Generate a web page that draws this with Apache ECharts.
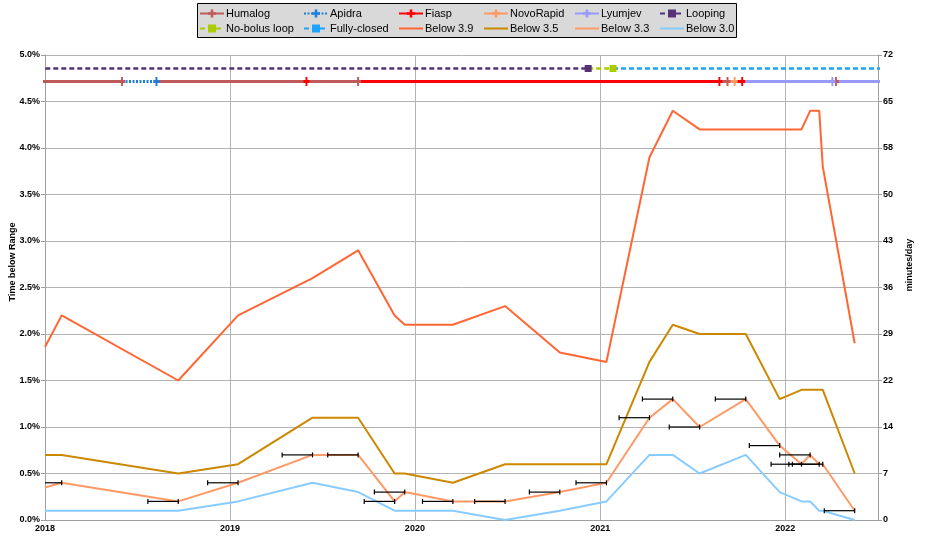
<!DOCTYPE html>
<html><head><meta charset="utf-8">
<script src="https://cdn.jsdelivr.net/npm/echarts@6/dist/echarts.min.js"></script>
<style>html,body{margin:0;padding:0;background:#fff}#c{width:929px;height:538px}</style>
</head><body><div id="c"></div>
<script>
// ---- data ----
const dates = ['2018-01-01','2018-02-03','2018-09-21','2019-01-17','2019-06-13','2019-09-11','2019-11-22','2019-12-12','2020-03-16','2020-06-27','2020-10-13','2021-01-13','2021-04-08','2021-05-24','2021-07-16','2021-10-15','2021-12-21','2022-02-02','2022-02-19','2022-03-09','2022-03-16','2022-05-18'];
const below39 = [1.86,2.2,1.5,2.2,2.6,2.9,2.2,2.1,2.1,2.3,1.8,1.7,3.9,4.4,4.2,4.2,4.2,4.2,4.4,4.4,3.8,1.9];
const below35 = [0.7,0.7,0.5,0.6,1.1,1.1,0.5,0.5,0.4,0.6,0.6,0.6,1.7,2.1,2.0,2.0,1.3,1.4,1.4,1.4,1.4,0.5];
const below33 = [0.35,0.4,0.2,0.4,0.7,0.7,0.2,0.3,0.2,0.2,0.3,0.4,1.1,1.3,1.0,1.3,0.8,0.6,0.7,0.6,0.6,0.1];
const below30 = [0.1,0.1,0.1,0.2,0.4,0.3,0.1,0.1,0.1,0.0,0.1,0.2,0.7,0.7,0.5,0.7,0.3,0.2,0.2,0.1,0.1,0.0];
const errWindowDays = 60;

// timeline periods (each inner list = connected dates)
const humalogPeriods = [['2017-12-01','2018-06-02'],['2018-08-09','2019-09-11'],['2021-08-24','2021-09-09'],['2022-04-11']];
const apidraPeriods = [['2018-06-02','2018-08-09']];
const fiaspPeriods = [['2019-06-01'],['2019-09-11','2021-08-24'],['2021-09-23','2021-10-08']];
const novorapidPeriods = [['2021-09-09','2021-09-23']];
const lyumjevPeriods = [['2021-10-08','2022-04-04','2022-08-01']];
const loopingPeriods = [['2017-12-01','2020-12-08']];
const noBolusPeriods = [['2020-12-08','2021-01-26']];
const fullyClosedPeriods = [['2021-01-26','2022-08-01']];
const insulinRow = 4.715, loopRow = 4.855;

const xMin = '2018-01-01', xMax = '2022-07-03';
const leftTicks = {min:0, max:5, interval:0.5};
const rightTicks = {min:0, max:72, interval:7.2};

// ---- helpers ----
const DAY = 86400000;
function ts(s){const p=s.split('-').map(Number);return new Date(p[0],p[1]-1,p[2]).getTime();}
function periodData(periods,row){
  const out=[];
  periods.forEach((p,i)=>{
    if(i>0)out.push(null);
    p.forEach((d,j)=>{
      const item={value:[ts(d),row]};
      if(j===0&&p.length>1)item.symbol='none';
      out.push(item);
    });
  });
  return out;
}
function pairs(vals){return dates.map((d,i)=>[ts(d),vals[i]]);}

const FONT = 'Liberation Sans';
const plus = 'path://M3.4,0H6.6V3.4H10V6.6H6.6V10H3.4V6.6H0V3.4H3.4Z';

function timeline(name,color,periods,row,type,symbol,width){
  return {name,type:'line',data:periodData(periods,row),connectNulls:false,
    symbol:symbol,symbolSize:symbol==='rect'?7:[6,9],showSymbol:true,showAllSymbol:true,
    lineStyle:{color,width:width||3,type:type||'solid'},itemStyle:{color},
    animation:false,z:3};
}
function below(name,color,vals){
  return {name,type:'line',data:pairs(vals),symbol:'none',
    lineStyle:{color,width:2},itemStyle:{color},animation:false,z:4};
}

const series = [
  timeline('Humalog','#c05a5a',humalogPeriods,insulinRow,'solid',plus),
  timeline('Apidra','#1e7fd8',apidraPeriods,insulinRow,[2,1.5],plus),
  timeline('Fiasp','#ff0000',fiaspPeriods,insulinRow,'solid',plus),
  timeline('NovoRapid','#ff9966',novorapidPeriods,insulinRow,'solid',plus),
  timeline('Lyumjev','#9999ff',lyumjevPeriods,insulinRow,'solid',plus),
  timeline('Looping','#553377',loopingPeriods,loopRow,[5,3],'rect',2.5),
  timeline('No-bolus loop','#aacc00',noBolusPeriods,loopRow,[5,3],'rect',2.5),
  timeline('Fully-closed','#1aa3ff',fullyClosedPeriods,loopRow,[5,3],'rect',2.5),
  below('Below 3.9','#ff6633',below39),
  below('Below 3.5','#cc8800',below35),
  below('Below 3.3','#ff9966',below33),
  below('Below 3.0','#88ccff',below30),
  {type:'custom',data:pairs(below33),animation:false,z:5,
    renderItem(params,api){
      const end=api.value(0),v=api.value(1);
      const p1=api.coord([end-errWindowDays*DAY,v]),p2=api.coord([end,v]);
      const cs=params.coordSys;
      if(p2[0]<=cs.x+1)return null;
      const x1=Math.max(p1[0],cs.x),x2=Math.min(p2[0],cs.x+cs.width);
      const st={stroke:'#000',lineWidth:1.2};
      const ch=[{type:'line',shape:{x1,y1:p2[1],x2,y2:p2[1]},style:st}];
      if(p1[0]>=cs.x)ch.push({type:'line',shape:{x1:p1[0],y1:p1[1]-2.5,x2:p1[0],y2:p1[1]+2.5},style:st});
      ch.push({type:'line',shape:{x1:p2[0],y1:p2[1]-2.5,x2:p2[0],y2:p2[1]+2.5},style:st});
      return {type:'group',children:ch};
    }}
];

const legendNames = [['Humalog','No-bolus loop'],['Apidra','Fully-closed'],['Fiasp','Below 3.9'],['NovoRapid','Below 3.5'],['Lyumjev','Below 3.3'],['Looping','Below 3.0']];
const noMarkerNames = ['Below 3.9','Below 3.5','Below 3.3','Below 3.0'];
const legendX = [199,303,398,483,574,659];
const legendY = [8,23];
const legends = [];
legendNames.forEach((col,ci)=>col.forEach((n,ri)=>{
  const item = noMarkerNames.includes(n) ? {name:n,itemStyle:{opacity:0}} : {name:n};
  legends.push({data:[item],left:legendX[ci],top:legendY[ri],padding:0,itemWidth:24,itemHeight:10,itemGap:0,
    selectedMode:false,textStyle:{fontFamily:FONT,fontSize:11,color:'#000',padding:[0,0,0,-3]}});
}));

const axisLabelStyle = {fontFamily:FONT,fontSize:9,fontWeight:'bold',color:'#000'};
const option = {
  animation:false,
  grid:{left:45,right:51,top:55,bottom:18,containLabel:false},
  legend:legends,
  xAxis:{type:'time',min:ts(xMin),max:ts(xMax),minInterval:365*DAY,
    axisLine:{lineStyle:{color:'#a0a0a0'}},axisTick:{show:false},
    splitLine:{show:true,lineStyle:{color:'#b3b3b3',width:1}},
    axisLabel:Object.assign({margin:4,hideOverlap:false,showMinLabel:true,showMaxLabel:false,
      formatter:v=>{const d=new Date(v);return (d.getMonth()===0&&d.getDate()===1)?String(d.getFullYear()):'';}},axisLabelStyle)},
  yAxis:[
    Object.assign({type:'value',position:'left',
      axisLine:{show:true,lineStyle:{color:'#a0a0a0'}},axisTick:{show:true,length:4,lineStyle:{color:'#a0a0a0'}},
      splitLine:{show:true,lineStyle:{color:'#b3b3b3',width:1}},
      axisLabel:Object.assign({margin:5,formatter:v=>v.toFixed(1)+'%'},axisLabelStyle)},leftTicks),
    Object.assign({type:'value',position:'right',
      axisLine:{show:true,lineStyle:{color:'#a0a0a0'}},axisTick:{show:true,length:4,lineStyle:{color:'#a0a0a0'}},
      splitLine:{show:false},
      axisLabel:Object.assign({margin:5,formatter:v=>String(Math.round(v))},axisLabelStyle)},rightTicks)
  ],
  graphic:[
    {type:'rect',left:197,top:3,shape:{width:539,height:34},style:{fill:'#d9d9d9',stroke:'#000',lineWidth:1},z:-1,silent:true},
    {type:'text',x:13,y:262,rotation:Math.PI/2,style:{text:'Time below Range',font:'bold 9px "Liberation Sans"',fill:'#000',align:'center',verticalAlign:'middle'}},
    {type:'text',x:910,y:265,rotation:Math.PI/2,style:{text:'minutes/day',font:'bold 9px "Liberation Sans"',fill:'#000',align:'center',verticalAlign:'middle'}}
  ],
  series
};
const chart = echarts.init(document.getElementById('c'),null,{renderer:'canvas'});
chart.setOption(option);
</script></body></html>
